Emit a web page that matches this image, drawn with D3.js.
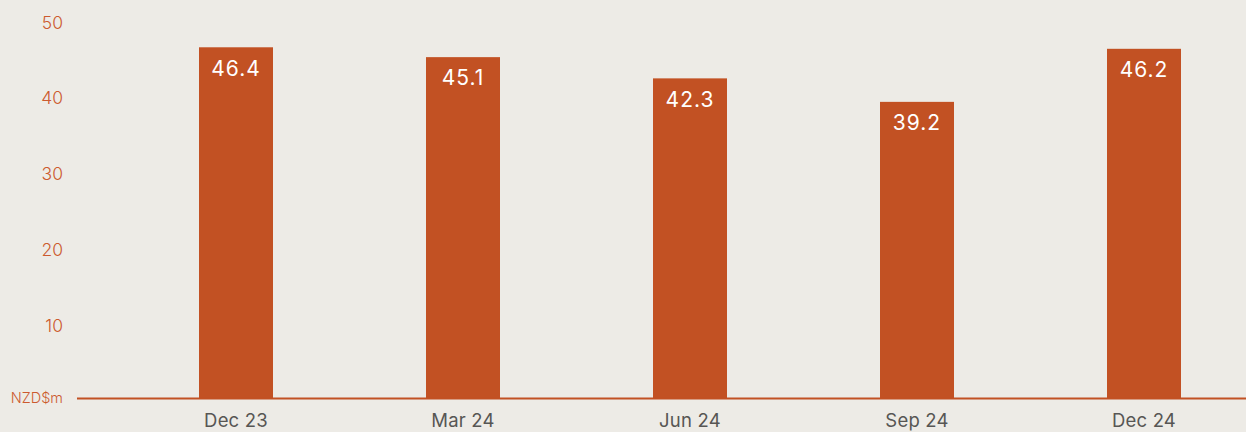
<!DOCTYPE html>
<html>
<head>
<meta charset="utf-8">
<script src="https://cdn.jsdelivr.net/npm/d3@7"></script>
<style>
  html, body { margin: 0; padding: 0; background: #edebe6; }
  svg { display: block; font-family: Inter, "Liberation Sans", sans-serif; }
</style>
</head>
<body>
<svg width="1246" height="432"></svg>
<script>
const categories = ["Dec 23", "Mar 24", "Jun 24", "Sep 24", "Dec 24"];
const values = [46.4, 45.1, 42.3, 39.2, 46.2];
const yTicks = [10, 20, 30, 40, 50];
const unitLabel = "NZD$m";

const orange = "#c25123";
const tickOrange = "#cc5a2f";
const svg = d3.select("svg");

const x = d3.scaleBand()
  .domain(categories)
  .range([122.5, 1257.5])
  .paddingInner(0.674)
  .paddingOuter(0.337);

const y = d3.scaleLinear().domain([0, 50]).range([399, 20]);

// y tick labels
svg.append("g")
  .selectAll("text")
  .data(yTicks)
  .join("text")
  .attr("x", 63)
  .attr("y", d => y(d) + 2.5)
  .attr("dy", "0.35em")
  .attr("text-anchor", "end")
  .attr("fill", tickOrange)
  .style("font-size", "17.5px")
  .style("font-weight", 300)
  .text(d => d);

svg.append("text")
  .attr("x", 63)
  .attr("y", 398)
  .attr("dy", "0.35em")
  .attr("text-anchor", "end")
  .attr("fill", tickOrange)
  .style("font-size", "14.5px")
  .style("font-weight", 300)
  .text(unitLabel);

// bars
svg.append("g")
  .selectAll("rect")
  .data(values)
  .join("rect")
  .attr("x", (d, i) => x(categories[i]))
  .attr("y", d => y(d))
  .attr("width", x.bandwidth())
  .attr("height", d => y(0) - y(d))
  .attr("fill", orange);

// baseline
svg.append("line")
  .attr("x1", 77)
  .attr("x2", 1246)
  .attr("y1", 398.5)
  .attr("y2", 398.5)
  .attr("stroke", orange)
  .attr("stroke-width", 2);

// value labels
svg.append("g")
  .selectAll("text")
  .data(values)
  .join("text")
  .attr("x", (d, i) => x(categories[i]) + x.bandwidth() / 2)
  .attr("y", d => y(d) + 21)
  .attr("dy", "0.35em")
  .attr("text-anchor", "middle")
  .attr("fill", "#ffffff")
  .style("font-size", "21px")
  .style("letter-spacing", "1px")
  .text(d => d.toFixed(1));

// x labels
svg.append("g")
  .selectAll("text")
  .data(categories)
  .join("text")
  .attr("x", d => x(d) + x.bandwidth() / 2)
  .attr("y", 421)
  .attr("dy", "0.35em")
  .attr("text-anchor", "middle")
  .attr("fill", "#575654")
  .style("font-size", "18.5px")
  .style("letter-spacing", "0.2px")
  .text(d => d);
</script>
</body>
</html>
